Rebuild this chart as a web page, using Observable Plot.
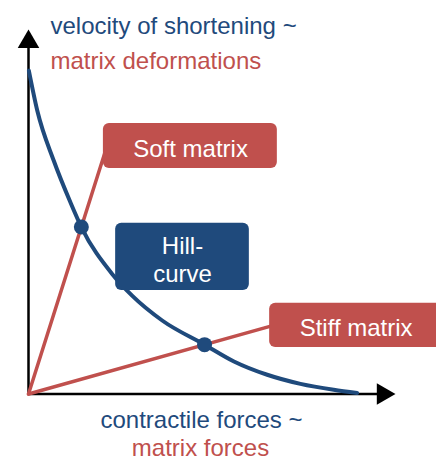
<!DOCTYPE html>
<html>
<head>
<meta charset="utf-8">
<script src="https://cdn.jsdelivr.net/npm/d3@7"></script>
<script src="https://cdn.jsdelivr.net/npm/@observablehq/plot@0.6"></script>
<style>
  body { margin: 0; background: #fff; }
  svg { font-family: "Liberation Sans", Arial, sans-serif; }
</style>
</head>
<body>
<div id="chart"></div>
<script>
// Hill curve (force vs. velocity)
const hillForce    = [0.01, 0.25, 0.72, 1.20, 1.51, 2.39, 2.96, 3.82, 5.03, 5.87, 6.82, 7.77, 8.72, 9.39];
const hillVelocity = [9.24, 8.10, 6.67, 5.47, 4.77, 3.43, 2.81, 2.10, 1.41, 0.93, 0.55, 0.29, 0.12, 0.03];

// Matrix lines from the origin
const matrixNames = ["Soft matrix", "Stiff matrix"];
const matrixEndX  = [2.2, 7.0];
const matrixEndY  = [6.95, 1.96];

// Intersection points
const crossForce    = [1.51, 5.03];
const crossVelocity = [4.77, 1.41];

// Label boxes (annotation anchors in data units)
const boxLabels = ["Soft matrix", "Hill-\ncurve", "Stiff matrix"];
const boxX1 = [2.14, 2.49, 6.89];
const boxX2 = [7.11, 6.31, 11.83];
const boxY1 = [6.44, 2.96, 1.33];
const boxY2 = [7.73, 4.88, 2.59];
const boxTextX = [4.63, 4.40, 9.36];
const boxKind = ["red", "blue", "red"];

// Axis extent
const axisMax = [10];

const BLUE = "#1F4A7C";
const RED = "#C0504D";

const hill = hillForce.map((f, i) => ({f, v: hillVelocity[i]}));
const matrixLines = matrixNames.flatMap((name, i) => [
  {name, f: 0, v: 0},
  {name, f: matrixEndX[i], v: matrixEndY[i]}
]);
const crosses = crossForce.map((f, i) => ({f, v: crossVelocity[i]}));
const boxes = boxLabels.map((label, i) => ({
  label, x1: boxX1[i], x2: boxX2[i], y1: boxY1[i], y2: boxY2[i], kind: boxKind[i],
  xm: boxTextX[i], ym: (boxY1[i] + boxY2[i]) / 2
}));

const chart = Plot.plot({
  width: 436,
  height: 460,
  marginLeft: 0, marginRight: 0, marginTop: 0, marginBottom: 0,
  x: {domain: [0, 10], range: [28, 378], axis: null},
  y: {domain: [0, 10], range: [393.5, 43.5], axis: null},
  marks: [
    // axes
    Plot.ruleY([0], {x1: 0, x2: axisMax[0], stroke: "black", strokeWidth: 2.5}),
    Plot.ruleX([0], {y1: 0, y2: axisMax[0], stroke: "black", strokeWidth: 2.5}),
    Plot.dot(axisMax, {x: 0, y: d => d + 0.06, symbol: "triangle", r: 8, fill: "black", stroke: null}),
    Plot.dot(axisMax, {x: d => d + 0.13, y: 0, symbol: "triangle", r: 8, rotate: 90, fill: "black", stroke: null}),
    // matrix lines
    Plot.line(matrixLines, {x: "f", y: "v", z: "name", stroke: RED, strokeWidth: 3.5}),
    // Hill curve
    Plot.line(hill, {x: "f", y: "v", curve: "monotone-x", stroke: BLUE, strokeWidth: 4}),
    // intersection points
    Plot.dot(crosses, {x: "f", y: "v", r: 7.5, fill: BLUE, stroke: null}),
    // boxes
    Plot.rect(boxes, {x1: "x1", x2: "x2", y1: "y1", y2: "y2", rx: 6, ry: 6,
      fill: d => d.kind === "red" ? RED : BLUE}),
    Plot.text(boxes, {x: "xm", y: "ym", text: "label", fill: "white", fontSize: 24,
      lineHeight: 1.17, dy: 2, textAnchor: "middle", lineAnchor: "middle"}),
    // axis titles
    Plot.text(["velocity of shortening ~"], {frameAnchor: "top-left", dx: 50, dy: 33,
      textAnchor: "start", lineAnchor: "bottom", fill: BLUE, fontSize: 24}),
    Plot.text(["matrix deformations"], {frameAnchor: "top-left", dx: 50, dy: 68,
      textAnchor: "start", lineAnchor: "bottom", fill: RED, fontSize: 24}),
    Plot.text(["contractile forces ~"], {frameAnchor: "top-left", dx: 201, dy: 427,
      textAnchor: "middle", lineAnchor: "bottom", fill: BLUE, fontSize: 24}),
    Plot.text(["matrix forces"], {frameAnchor: "top-left", dx: 200, dy: 455,
      textAnchor: "middle", lineAnchor: "bottom", fill: RED, fontSize: 24})
  ]
});
document.getElementById("chart").appendChild(chart);
</script>
</body>
</html>
